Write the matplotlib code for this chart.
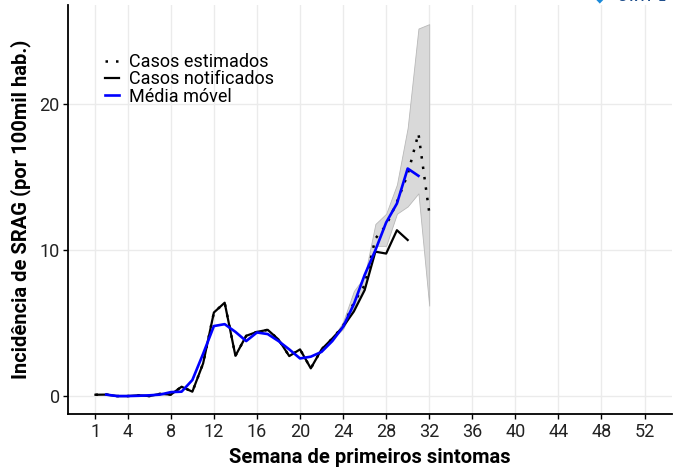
import numpy as np
import matplotlib
matplotlib.use("Agg")
import matplotlib.pyplot as plt

plt.rcParams['font.family'] = ['Roboto', 'DejaVu Sans']

# semanas epidemiologicas
weeks = list(range(1, 33))

# casos notificados (semanas 1-30)
notified = [0.09, 0.1, 0.0, 0.0, 0.05, 0.0, 0.15, 0.1, 0.64, 0.3,
            2.24, 5.73, 6.4, 2.76, 4.13, 4.4, 4.54, 3.88, 2.74, 3.2,
            1.9, 3.2, 3.95, 4.75, 5.8, 7.26, 9.9, 9.77, 11.37, 10.7]

# casos estimados (nowcasting), iguais aos notificados ate a semana 23
estimated = [0.09, 0.1, 0.0, 0.0, 0.05, 0.0, 0.15, 0.1, 0.64, 0.3,
             2.24, 5.73, 6.4, 2.76, 4.13, 4.4, 4.54, 3.88, 2.74, 3.2,
             1.9, 3.2, 3.95, 4.8, 6.4, 7.6, 10.8, 11.7, 13.3, 15.2,
             18.0, 12.6]

# intervalo de credibilidade (semanas 23-32)
ci_weeks = list(range(23, 33))
ci_low = [3.9, 4.6, 6.1, 7.3, 10.3, 10.3, 12.5, 13.0, 13.9, 6.2]
ci_high = [3.9, 5.1, 7.2, 8.2, 11.8, 12.5, 14.5, 18.4, 25.2, 25.5]

# media movel (semanas 2-31)
mm_weeks = list(range(2, 32))
moving_avg = [0.1, 0.0, 0.0, 0.02, 0.05, 0.1, 0.27, 0.3, 1.1, 2.9,
              4.8, 4.93, 4.4, 3.77, 4.36, 4.25, 3.77, 3.2, 2.58, 2.7,
              3.03, 3.77, 4.75, 6.3, 8.3, 10.0, 11.9, 13.2, 15.6, 15.1]

xticks = [1, 4, 8, 12, 16, 20, 24, 28, 32, 36, 40, 44, 48, 52]
yticks = [0, 10, 20]

fig = plt.figure(figsize=(6.85, 4.71), dpi=100)
ax = fig.add_axes([0.0993, 0.1204, 0.8817, 0.8686])

ax.fill_between(ci_weeks, ci_low, ci_high, facecolor='#d9d9d9',
                edgecolor='#b8b8b8', linewidth=0.6, zorder=2)
ax.plot(weeks, estimated, color='black', linestyle=(0, (1, 3.2)),
        linewidth=1.8, label='Casos estimados', zorder=3)
ax.plot(weeks[:len(notified)], notified, color='black', linewidth=1.6,
        label='Casos notificados', zorder=4)
ax.plot(mm_weeks, moving_avg, color='#0000ff', linewidth=1.9,
        label='Média móvel', zorder=5)

ax.set_xlim(-1.55, 54.55)
ax.set_ylim(-1.25, 26.8)
ax.set_xticks(xticks)
ax.set_yticks(yticks)
ax.grid(True, color='#ebebeb', linewidth=1.0, zorder=0)
ax.set_axisbelow(True)

for s in ['top', 'right']:
    ax.spines[s].set_visible(False)
for s in ['left', 'bottom']:
    ax.spines[s].set_linewidth(1.3)
    ax.spines[s].set_color('black')
ax.tick_params(axis='both', length=3.5, width=1.0, color='black',
               labelsize=13, labelcolor='#222222', pad=2.5)

ax.set_xlabel('Semana de primeiros sintomas', fontsize=14.5,
              fontweight='bold', labelpad=5)
ax.set_ylabel('Incidência de SRAG (por 100mil hab.)', fontsize=14.5,
              fontweight='bold', labelpad=6)

leg = ax.legend(loc='upper left', bbox_to_anchor=(0.05, 0.9),
                frameon=False, fontsize=13, handlelength=0.75,
                handletextpad=0.55, labelspacing=-0.05, borderaxespad=0)

# logo cortado no topo
fig.text(0.876, 0.998, '\u25c6', color='#1c8ad9', fontsize=9,
         ha='center', va='baseline')
fig.text(0.902, 0.998, 'G R I P E', color='#1f4e8c', fontsize=9,
         fontweight='bold', ha='left', va='baseline')

fig.savefig('out.png', dpi=100)
